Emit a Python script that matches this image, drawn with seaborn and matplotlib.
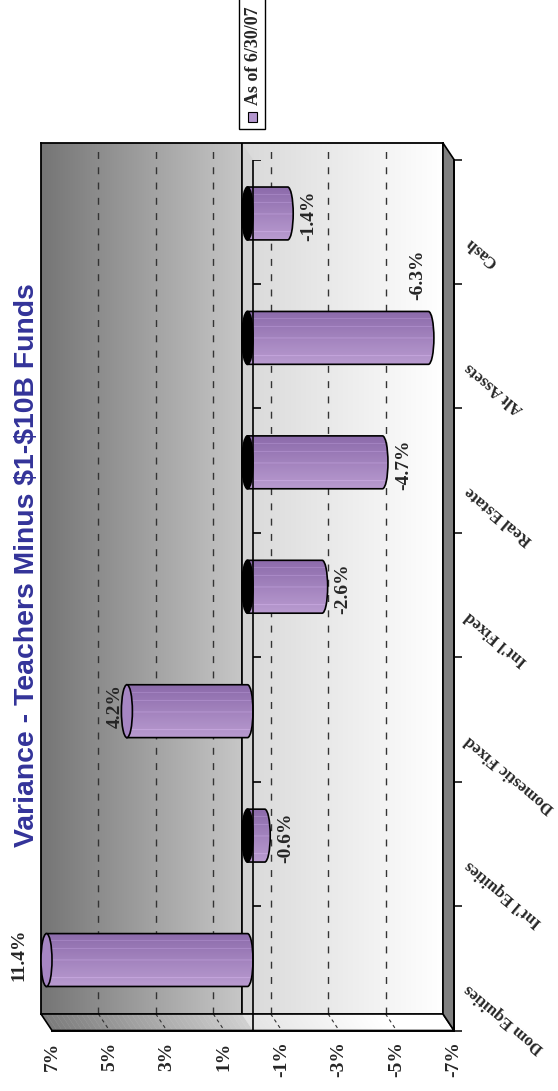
import numpy as np
import pandas as pd
import matplotlib
matplotlib.use("Agg")
import matplotlib.pyplot as plt
import seaborn as sns
from matplotlib.patches import Polygon, PathPatch, Ellipse, Rectangle
from matplotlib.path import Path
from matplotlib.transforms import Affine2D
from matplotlib.colors import to_rgb

# ---- data -----------------------------------------------------------------
categories = ["Dom Equities", "Int'l Equities", "Domestic Fixed", "Int'l Fixed",
              "Real Estate", "Alt Assets", "Cash"]
variance = [11.4, -0.6, 4.2, -2.6, -4.7, -6.3, -1.4]
value_ticks = [7, 5, 3, 1, -1, -3, -5, -7]
value_tick_labels = ["7%", "5%", "3%", "1%", "-1%", "-3%", "-5%", "-7%"]
grid_values = [5, 3, 1, -1, -3, -5]
series_name = "As of 6/30/07"
title = "Variance - Teachers Minus $1-$10B Funds"

# ---- style ----------------------------------------------------------------
W, H, DPI = 558, 1091, 100
VMAX, VMIN = 7, -7
BAR_WIDTH = 0.425
BAR_TOP = "#8c6bab"
BAR_BOTTOM = "#b99bd0"
CAP_FACE = "#a686c3"
LEGEND_FACE = "#b497cf"
TITLE_COLOR = "#333399"
SIDE_WALL = "#808080"
CAP_PX = 5.5            # half-width of the cylinder end ellipses
WALL = (41, 143, 443, 1014)   # back wall: left, top, right, bottom
DEPTH = (11, 16.5)      # shift from back wall to front plane

sns.set_style("white")
plt.rcParams["font.family"] = ["Liberation Serif", "DejaVu Serif"]
plt.rcParams["font.weight"] = "bold"

fig = plt.figure(figsize=(W / DPI, H / DPI), dpi=DPI)


def plane(frac):
    l, t, r, b = WALL
    dx, dy = DEPTH[0] * frac, DEPTH[1] * frac
    l, t, r, b = l + dx, t + dy, r + dx, b + dy
    return [l / W, 1 - b / H, (r - l) / W, (b - t) / H]


ax_back = fig.add_axes(plane(0.0))
ax_mid = fig.add_axes(plane(0.5))
ax_front = fig.add_axes(plane(1.0))

n_cat = len(categories)
order = categories[::-1]
YLIM = (n_cat - 0.5, -0.5)
px_x = (WALL[2] - WALL[0]) / (VMAX - VMIN)
px_y = (WALL[3] - WALL[1]) / n_cat
dv = -DEPTH[0] / px_x       # depth vector in back-wall data units
dc = DEPTH[1] / px_y


def wall_gray(v):
    return np.interp(v, [VMIN, -1e-3, 0, VMAX], [1.0, 0.85, 0.78, 0.46])


# ---- back wall ------------------------------------------------------------
xs = np.linspace(VMAX, VMIN, 400)
wall = np.repeat(wall_gray(xs)[None, :, None], 3, axis=2)
ax_back.imshow(wall, extent=(VMAX, VMIN, YLIM[0], YLIM[1]), aspect="auto",
               zorder=0, interpolation="bilinear")
for v in grid_values:
    ax_back.axvline(v, color="#333333", lw=1.0, dashes=(5, 6), zorder=1)
ax_back.axvline(0, color="black", lw=1.2, zorder=2)

# floor (gradient strips) and its outline
edges = np.linspace(VMAX, VMIN, 81)
yb = YLIM[0]
for a, b in zip(edges[:-1], edges[1:]):
    g = float(wall_gray((a + b) / 2)) * 1.05
    g = min(g, 1.0)
    ax_back.add_patch(Polygon([(a, yb), (b, yb), (b + dv, yb + dc), (a + dv, yb + dc)],
                              closed=True, facecolor=(g, g, g), edgecolor=(g, g, g),
                              lw=0.3, clip_on=False, zorder=3))
for v in value_ticks[1:-1]:
    ax_back.plot([v, v + dv], [yb, yb + dc], color="#333333", lw=0.8,
                 dashes=(3, 3), clip_on=False, zorder=4)
ax_back.add_patch(Polygon([(VMAX, yb), (VMIN, yb), (VMIN + dv, yb + dc), (VMAX + dv, yb + dc)],
                          closed=True, facecolor="none", edgecolor="black",
                          lw=1.2, clip_on=False, zorder=5))

# zero plane seen edge-on
ax_back.add_patch(Polygon([(0, YLIM[1]), (0, YLIM[0]), (dv, YLIM[0] + dc), (dv, YLIM[1] + dc)],
                          closed=True, facecolor="#d3d3d3", edgecolor="none",
                          clip_on=False, zorder=2.5))
ax_back.axvline(0, color="black", lw=1.2, zorder=6)

# right side wall
ax_back.add_patch(Polygon([(VMIN, YLIM[1]), (VMIN, YLIM[0]), (VMIN + dv, YLIM[0] + dc),
                           (VMIN + dv, YLIM[1] + dc)],
                          closed=True, facecolor=SIDE_WALL, edgecolor="black",
                          lw=1.2, clip_on=False, zorder=6))

for s in ax_back.spines.values():
    s.set_color("black")
    s.set_linewidth(1.3)
ax_back.set_xticks([])
ax_back.set_yticks([])

# ---- cylinders ------------------------------------------------------------
df = pd.DataFrame({"category": categories, "variance": variance})
sns.barplot(data=df, x="variance", y="category", order=order, orient="h",
            color=BAR_BOTTOM, width=BAR_WIDTH, errorbar=None, linewidth=0, ax=ax_mid)

top_rgb, bot_rgb = np.array(to_rgb(BAR_TOP)), np.array(to_rgb(BAR_BOTTOM))
t = np.linspace(0, 1, 60)[:, None]
shade = top_rgb * (1 - t) + bot_rgb * t
for frac in (0.14, 0.3, 0.52, 0.86):
    k = int(frac * 59)
    shade[k] = np.clip(shade[k] + 0.08, 0, 1)
shade = shade[:, None, :]

cap_w = CAP_PX / px_x
arc = Path.arc(-90, 90)
bars = [p for p in ax_mid.patches if isinstance(p, Rectangle)]
for rect in bars:
    x0, w = rect.get_x(), rect.get_width()
    y0, h = rect.get_y(), rect.get_height()
    rect.set_visible(False)
    value = x0 + w
    lo, hi = min(x0, value), max(x0, value)
    lo_d, hi_d = max(lo, VMIN), min(hi, VMAX)
    yc = y0 + h / 2

    arc_v = Affine2D().scale(-cap_w, h / 2).translate(lo_d, yc).transform(arc.vertices)
    verts = [(hi_d, y0), (lo_d, y0)] + [tuple(p) for p in arc_v[1:]] + [(hi_d, y0 + h), (hi_d, y0)]
    codes = [Path.MOVETO, Path.LINETO] + list(arc.codes[1:]) + [Path.LINETO, Path.CLOSEPOLY]
    body = PathPatch(Path(verts, codes), facecolor="none", edgecolor="black",
                     lw=1.2, zorder=3, clip_on=False)
    ax_mid.add_patch(body)
    im = ax_mid.imshow(shade, extent=(hi_d, lo_d - cap_w, y0 + h, y0), origin="upper",
                       aspect="auto", zorder=2, interpolation="bilinear")
    im.set_clip_path(body)
    im.set_clip_box(None)

    ax_mid.add_patch(Ellipse((hi_d, yc), width=2 * cap_w, height=h,
                             facecolor="black" if value < 0 else CAP_FACE,
                             edgecolor="black", lw=1.2, zorder=4, clip_on=False))

    # value label at the free end of the cylinder
    txt = f"{value:.1f}%"
    if value < 0:
        end = lo_d
        if (end - VMIN) * px_x < 31:
            off = (-11, 63)
        else:
            off = (21, -2)
    else:
        end = hi_d
        off = (-28, 5) if value > VMAX else (-12, 5)
    ax_mid.annotate(txt, xy=(end, yc), xytext=off, textcoords="offset pixels",
                    rotation=90, ha="center", va="center", fontsize=14,
                    fontweight="bold", annotation_clip=False, zorder=6)

ax_mid.set_facecolor("none")
for s in ax_mid.spines.values():
    s.set_visible(False)
ax_mid.set_xticks([])
ax_mid.set_yticks([])
ax_mid.set_xlabel("")
ax_mid.set_ylabel("")

# ---- front plane: axes lines, ticks and labels -----------------------------
ax_front.set_facecolor("none")
ax_front.axvline(0, color="black", lw=1.2, zorder=3)
bounds = np.arange(n_cat + 1) - 0.5
ax_front.hlines(bounds, 0, -8 / px_x, color="black", lw=1.2)
for side in ("left", "top"):
    ax_front.spines[side].set_visible(False)
for side in ("bottom", "right"):
    ax_front.spines[side].set_color("black")
    ax_front.spines[side].set_linewidth(1.4)

ax_front.set_xticks(value_ticks)
ax_front.set_xticklabels(value_tick_labels, rotation=90, fontsize=14,
                         fontweight="bold")
ax_front.tick_params(axis="x", direction="out", length=6, width=1.1,
                     color="black", pad=2)
ax_front.yaxis.tick_right()
ax_front.set_yticks(bounds, minor=True)
ax_front.set_yticks([])
ax_front.tick_params(axis="y", which="minor", direction="out", length=6,
                     width=1.1, color="black", right=True, left=False)
for i, cat in enumerate(order):
    ax_front.annotate(cat, xy=(1, i), xycoords=("axes fraction", "data"),
                      xytext=(13, -19), textcoords="offset pixels",
                      rotation=140, rotation_mode="anchor", ha="right",
                      va="center", fontsize=12.2, fontweight="bold",
                      annotation_clip=False)

for ax in (ax_back, ax_mid, ax_front):
    ax.set_xlim(VMAX, VMIN)
    ax.set_ylim(*YLIM)

# ---- title and legend ------------------------------------------------------
fig.text(27 / W, 1 - 565 / H, title, rotation=90, ha="center", va="center",
         fontsize=20.4, fontweight="bold", color=TITLE_COLOR,
         family=["Liberation Sans", "DejaVu Sans"], parse_math=False)

fig.add_artist(Rectangle((238.5 / W, 1 - 128.5 / H), 26 / W, 130 / H,
                         transform=fig.transFigure, facecolor="white",
                         edgecolor="black", lw=1.0))
fig.add_artist(Rectangle((248 / W, 1 - 122 / H), 9 / W, 10 / H,
                         transform=fig.transFigure, facecolor=LEGEND_FACE,
                         edgecolor="black", lw=0.8))
fig.text(253.5 / W, 1 - 105 / H, series_name, rotation=90, ha="center",
         va="bottom", fontsize=13, fontweight="bold")

fig.savefig("out.png", dpi=DPI)
